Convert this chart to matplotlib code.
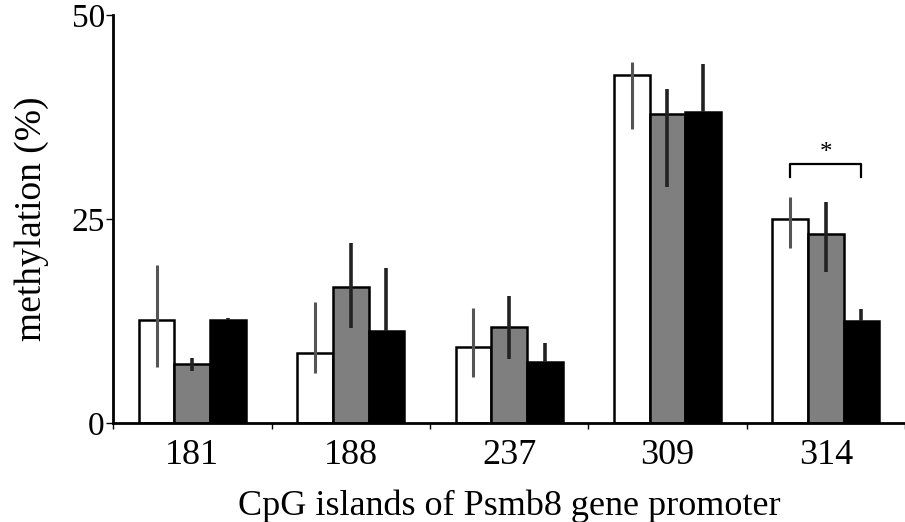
import numpy as np
import matplotlib.pyplot as plt

plt.rcParams['font.family'] = ['Liberation Serif', 'DejaVu Serif']

islands = ['181', '188', '237', '309', '314']
white = [12.6, 8.6, 9.3, 42.6, 25.0]
white_hi = [19.4, 14.8, 14.1, 44.2, 27.7]
white_lo = [6.9, 6.1, 5.6, 36.0, 21.4]
gray = [7.2, 16.7, 11.8, 37.9, 23.2]
gray_hi = [7.9, 22.0, 15.6, 41.0, 27.1]
gray_lo = [6.3, 11.6, 7.8, 28.9, 18.5]
black = [12.6, 11.2, 7.5, 38.1, 12.5]
black_hi = [12.9, 19.0, 9.8, 44.0, 14.0]


def yerr(v, lo, hi):
    v = np.array(v)
    return [v - np.array(lo), np.array(hi) - v]


fig = plt.figure(figsize=(9.05, 5.22), dpi=100)
ax = fig.add_axes([0.125, 0.19, 0.875, 0.781])

x = np.arange(len(islands))
w = 0.225
ax.bar(x - w, white, w, color='white', edgecolor='black', linewidth=1.8, zorder=2)
ax.bar(x, gray, w, color='#7f7f7f', edgecolor='black', linewidth=1.8, zorder=2)
ax.bar(x + w, black, w, color='black', edgecolor='black', linewidth=1.8, zorder=2)
ax.errorbar(x - w, white, yerr=yerr(white, white_lo, white_hi), fmt='none',
            ecolor='#555555', elinewidth=2.2, capsize=0, zorder=3)
ax.errorbar(x, gray, yerr=yerr(gray, gray_lo, gray_hi), fmt='none',
            ecolor='#222222', elinewidth=2.6, capsize=0, zorder=3)
ax.errorbar(x + w, black, yerr=yerr(black, black, black_hi), fmt='none',
            ecolor='#222222', elinewidth=2.6, capsize=0, zorder=3)

# significance bracket for 314
yb = 31.7
ax.plot([4 - w, 4 - w, 4 + w, 4 + w], [30.1, yb, yb, 30.1], color='black', lw=1.6)
ax.text(4, yb + 0.1, '*', ha='center', va='bottom', fontsize=18)

ax.set_xlim(-0.5, 4.456)
ax.set_ylim(0, 50)
ax.set_yticks([0, 25, 50])
ax.set_yticklabels(['0', '25', '50'], fontsize=24)
ax.set_xticks(x)
ax.set_xticklabels(islands, fontsize=26)
ax.set_xticks(np.arange(-0.5, 4.6, 1), minor=True)
ax.tick_params(axis='x', which='major', length=0, pad=12)
ax.tick_params(axis='x', which='minor', length=4, width=1, direction='out')
ax.tick_params(axis='y', length=5, width=1, pad=1)

ax.spines['top'].set_visible(False)
ax.spines['right'].set_visible(False)
ax.spines['left'].set_linewidth(2)
ax.spines['bottom'].set_linewidth(2)

ax.set_xlabel('CpG islands of Psmb8 gene promoter', fontsize=26, labelpad=12)
ax.set_ylabel('methylation (%)', fontsize=27, labelpad=16)

fig.savefig('out.png', dpi=100)
